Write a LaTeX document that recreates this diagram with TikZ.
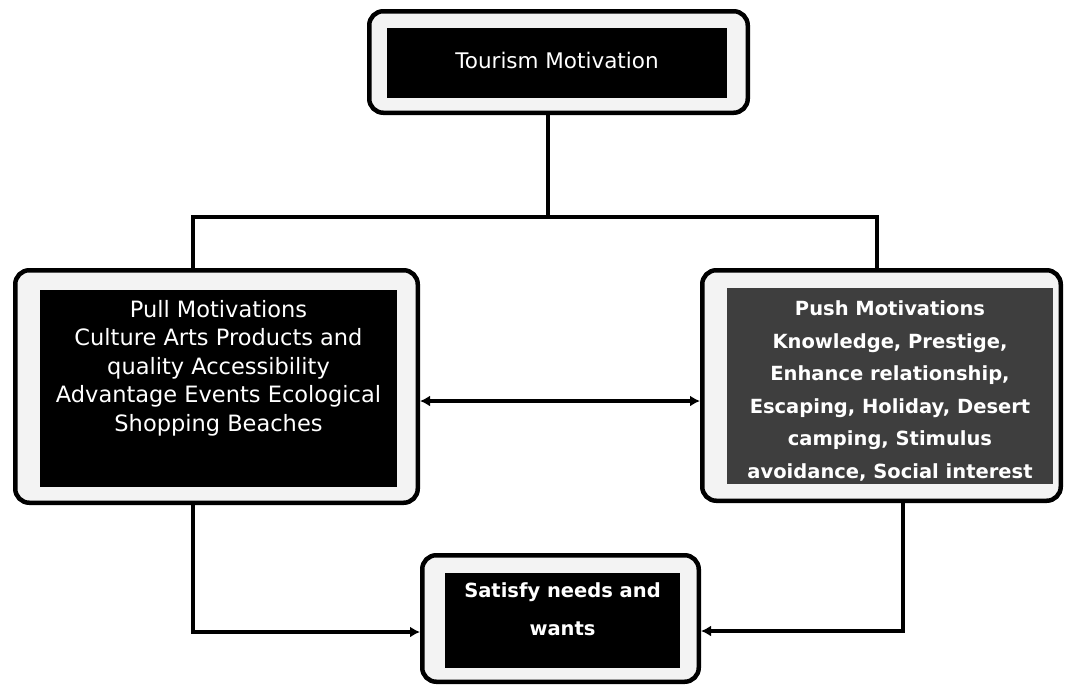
\documentclass[tikz,border=0pt]{standalone}
\usepackage{fontspec}
\setmainfont{DejaVu Sans}
\usetikzlibrary{arrows.meta}
\definecolor{gapgray}{HTML}{F3F3F3}
\definecolor{pushgray}{HTML}{3E3E3E}
\tikzset{
  outerbox/.style={draw=black, line width=4.5pt, rounded corners=14pt, fill=gapgray, inner sep=0pt},
  innerbox/.style={fill=black, draw=none, inner sep=0pt},
  wtext/.style={text=white, align=center, inner sep=0pt},
  conn/.style={draw=black, line width=4.2pt},
  tip/.style={-{Latex[length=10pt,width=11pt]}},
  tips/.style={{Latex[length=10pt,width=11pt]}-{Latex[length=10pt,width=11pt]}}
}
\begin{document}
\begin{tikzpicture}[x=1pt,y=-1pt]
\useasboundingbox (0,0) rectangle (1072,686);
\fill[white] (0,0) rectangle (1072,686);
% boxes
\node[outerbox, minimum width=378.5pt, minimum height=101.5pt] (top) at (558.5,62) {};
\node[innerbox, minimum width=340pt, minimum height=70pt] (topin) at (557,63) {};
\node[wtext, font=\fontsize{21.5}{25}\selectfont] (toptx) at (557,60) {Tourism Motivation};

\node[outerbox, minimum width=402.5pt, minimum height=232.5pt] (pull) at (216.5,386.5) {};
\node[innerbox, minimum width=357pt, minimum height=197pt] (pullin) at (218.5,388.5) {};
\node[wtext, font=\fontsize{22.5}{28.5}\selectfont] (pulltx) at (218.5,368) {Pull Motivations\\Culture Arts Products and\\quality Accessibility\\Advantage Events Ecological\\Shopping Beaches};

\node[outerbox, minimum width=358.5pt, minimum height=230.5pt] (push) at (881.5,385.5) {};
\node[innerbox, fill=pushgray, minimum width=326pt, minimum height=196pt] (pushin) at (890,386) {};
\node[wtext, font=\bfseries\fontsize{19.5}{32.5}\selectfont] (pushtx) at (890,391) {Push Motivations\\Knowledge, Prestige,\\Enhance relationship,\\Escaping, Holiday, Desert\\camping, Stimulus\\avoidance, Social interest};

\node[outerbox, minimum width=276.5pt, minimum height=126.5pt] (sat) at (560.5,618.5) {};
\node[innerbox, minimum width=235pt, minimum height=95pt] (satin) at (562.5,620.5) {};
\node[wtext, font=\bfseries\fontsize{19.5}{38}\selectfont] (sattx) at (562.5,609) {Satisfy needs and\\wants};

% junction coordinates
\coordinate (j) at (548,217);
\coordinate (jl) at (193,217);
\coordinate (jr) at (877,217);
\coordinate (ya) at (0,401);
\coordinate (bl) at (193,632);
\coordinate (br) at (903,631);

% connectors
\draw[conn] (j |- top.south) -- (j);
\draw[conn] (jl |- pull.north) -- (jl) -- (jr) -- (jr |- push.north);
\draw[conn, tips] (pull.east |- ya) -- (push.west |- ya);
\draw[conn, tip] (bl |- pull.south) -- (bl) -- (sat.west |- bl);
\draw[conn, tip] (br |- push.south) -- (br) -- (sat.east |- br);
\end{tikzpicture}
\end{document}
